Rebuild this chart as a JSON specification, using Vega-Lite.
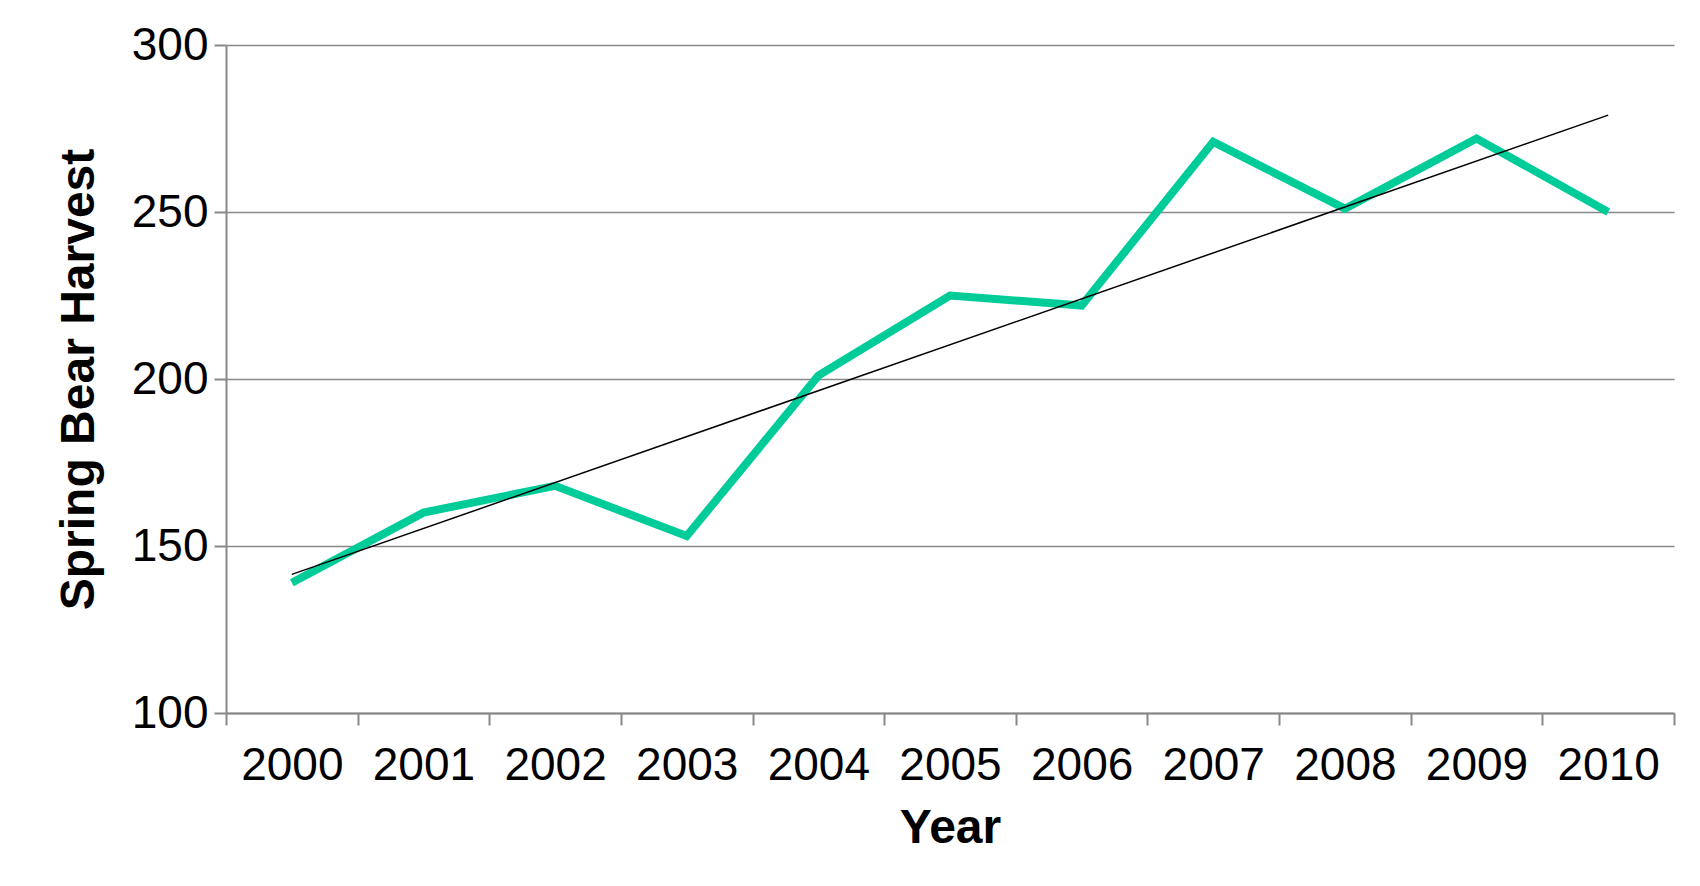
{
  "$schema": "https://vega.github.io/schema/vega-lite/v6.json",
  "width": 1448,
  "height": 668,
  "autosize": "none",
  "padding": {"left": 226, "top": 45, "right": 26, "bottom": 173},
  "background": "white",
  "config": {
    "font": "Liberation Sans",
    "view": {"stroke": null},
    "axis": {"domainColor": "#888888", "tickColor": "#888888", "gridColor": "#888888", "domainWidth": 2, "tickWidth": 2, "gridWidth": 1.5, "labelColor": "black", "titleColor": "black", "labelFontSize": 46, "titleFontSize": 48, "titleFontWeight": "bold"}
  },
  "datasets": {
    "harvest": [
      {"Year": "2000", "Harvest": 139},
      {"Year": "2001", "Harvest": 160},
      {"Year": "2002", "Harvest": 168},
      {"Year": "2003", "Harvest": 153},
      {"Year": "2004", "Harvest": 201},
      {"Year": "2005", "Harvest": 225},
      {"Year": "2006", "Harvest": 222},
      {"Year": "2007", "Harvest": 271},
      {"Year": "2008", "Harvest": 251},
      {"Year": "2009", "Harvest": 272},
      {"Year": "2010", "Harvest": 250}
    ],
    "trend": [
      {"Year": "2000", "Trend": 141.5},
      {"Year": "2010", "Trend": 279}
    ]
  },
  "layer": [
    {
      "data": {"name": "harvest"},
      "mark": {"type": "line", "color": "#00cc99", "strokeWidth": 8},
      "encoding": {
        "x": {"field": "Year", "type": "ordinal", "scale": {"paddingInner": 0, "paddingOuter": 0}, "title": "Year",
          "axis": {"labelAngle": 0, "tickBand": "extent", "tickSize": 12, "labelPadding": 18, "titlePadding": 16}},
        "y": {"field": "Harvest", "type": "quantitative", "scale": {"domain": [100, 300]}, "title": "Spring Bear Harvest",
          "axis": {"values": [100, 150, 200, 250, 300], "tickSize": 12, "labelPadding": 6, "titlePadding": 28, "domain": true}}
      }
    },
    {
      "data": {"name": "trend"},
      "mark": {"type": "line", "color": "black", "strokeWidth": 1.5},
      "encoding": {
        "x": {"field": "Year", "type": "ordinal"},
        "y": {"field": "Trend", "type": "quantitative"}
      }
    }
  ]
}
